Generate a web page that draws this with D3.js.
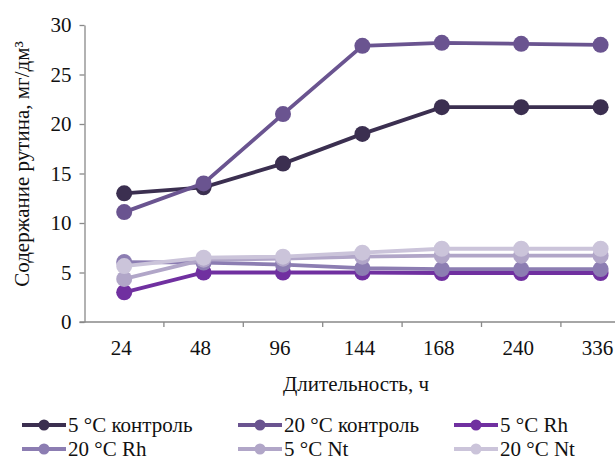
<!DOCTYPE html>
<html>

<head>
  <meta charset="utf-8">
  <title>Содержание рутина</title>
  <style>
    body {
      margin: 0;
      padding: 0;
      background: white;
      font-family: "Liberation Serif", "Times New Roman", serif;
    }

    .axis path,
    .axis line {
      stroke: #898989;
      stroke-width: 1.3;
    }

    .axis text {
      font-family: "Liberation Serif", serif;
      font-size: 21px;
      fill: #111;
    }

    .title {
      font-size: 21px;
      fill: #111;
    }

    .legend text {
      font-size: 21px;
      fill: #111;
    }
  </style>
</head>

<body>
  <div id="chart"></div>

  <script src="https://d3js.org/d3.v7.min.js"></script>
  <script>
    // time points, hours
    var hours = ["24", "48", "96", "144", "168", "240", "336"]

    // series names and values
    var seriesNames = ["5 °C контроль", "20 °C контроль", "5 °C Rh", "20 °C Rh", "5 °C Nt", "20 °C Nt"]
    var control5 = [13.0, 13.6, 16.0, 19.0, 21.7, 21.7, 21.7]
    var control20 = [11.1, 14.0, 21.0, 27.9, 28.2, 28.1, 28.0]
    var rh5 = [3.0, 5.0, 5.0, 5.0, 4.95, 4.95, 4.95]
    var rh20 = [6.05, 6.0, 5.8, 5.45, 5.35, 5.35, 5.35]
    var nt5 = [4.35, 6.3, 6.4, 6.6, 6.7, 6.7, 6.7]
    var nt20 = [5.65, 6.5, 6.6, 7.0, 7.4, 7.4, 7.4]

    var yTicks = [0, 5, 10, 15, 20, 25, 30]

    var colors = ["#3b2f50", "#6a5490", "#7030a0", "#8c7db2", "#b1a6c8", "#cbc4da"]

    var series = [control5, control20, rh5, rh20, nt5, nt20].map(function(vals, i) {
      return { name: seriesNames[i], values: vals, color: colors[i] }
    })

    var width = 615,
      height = 461

    var svg = d3.select("#chart")
      .append("svg")
      .attr("width", width)
      .attr("height", height)

    // plot area runs past the right edge, like the cropped original
    var x = d3.scaleBand()
      .domain(hours)
      .range([84.5, 84.5 + 7 * 79.4])

    var y = d3.scaleLinear()
      .domain([0, 30])
      .range([322, 25])

    // y axis
    svg.append("g")
      .attr("class", "axis")
      .attr("transform", "translate(84.5,0)")
      .call(d3.axisLeft(y).tickValues(yTicks).tickSize(5).tickSizeOuter(0).tickPadding(8))

    // x axis with ticks on band edges
    var xAxis = svg.append("g")
      .attr("class", "axis")
      .attr("transform", "translate(0,322)")
    xAxis.append("line")
      .attr("x1", x.range()[0] - 5)
      .attr("x2", x.range()[1])
    xAxis.selectAll(".edge")
      .data(hours.slice(1))
      .enter().append("line")
      .attr("class", "edge")
      .attr("x1", function(d) { return x(d) })
      .attr("x2", function(d) { return x(d) })
      .attr("y2", 5)
    xAxis.selectAll(".lbl")
      .data(hours)
      .enter().append("text")
      .attr("class", "lbl")
      .attr("x", function(d) { return x(d) + x.bandwidth() / 2 - 3 })
      .attr("y", 33)
      .attr("text-anchor", "middle")
      .text(function(d) { return d })

    // axis titles
    svg.append("text")
      .attr("class", "title")
      .attr("x", 356)
      .attr("y", 391)
      .attr("text-anchor", "middle")
      .text("Длительность, ч")

    svg.append("text")
      .attr("class", "title")
      .attr("transform", "translate(29,164) rotate(-90)")
      .attr("text-anchor", "middle")
      .text("Содержание рутина, мг/дм³")

    var line = d3.line()
      .x(function(d, i) { return x(hours[i]) + x.bandwidth() / 2 })
      .y(function(d) { return y(d) })

    // each series: line then markers
    var groups = svg.append("g")
      .selectAll("g")
      .data(series)
      .enter().append("g")

    groups.append("path")
      .attr("d", function(d) { return line(d.values) })
      .attr("fill", "none")
      .attr("stroke", function(d) { return d.color })
      .attr("stroke-width", 3.8)

    groups.selectAll("circle")
      .data(function(d) { return d.values.map(function(v, i) { return { v: v, i: i, color: d.color } }) })
      .enter().append("circle")
      .attr("cx", function(d) { return x(hours[d.i]) + x.bandwidth() / 2 })
      .attr("cy", function(d) { return y(d.v) })
      .attr("r", 8)
      .attr("fill", function(d) { return d.color })

    // legend, 3 columns x 2 rows
    var legendX = [22, 238, 454],
      legendY = [425, 449]

    var legend = svg.append("g")
      .attr("class", "legend")
      .selectAll("g")
      .data(series)
      .enter().append("g")
      .attr("transform", function(d, i) {
        return "translate(" + legendX[i % 3] + "," + legendY[Math.floor(i / 3)] + ")"
      })

    legend.append("line")
      .attr("x2", 44)
      .attr("stroke", function(d) { return d.color })
      .attr("stroke-width", 3.8)

    legend.append("circle")
      .attr("cx", 22)
      .attr("r", 5.5)
      .attr("fill", function(d) { return d.color })

    legend.append("text")
      .attr("x", 46)
      .attr("y", 6.5)
      .text(function(d) { return d.name })
  </script>
</body>

</html>
